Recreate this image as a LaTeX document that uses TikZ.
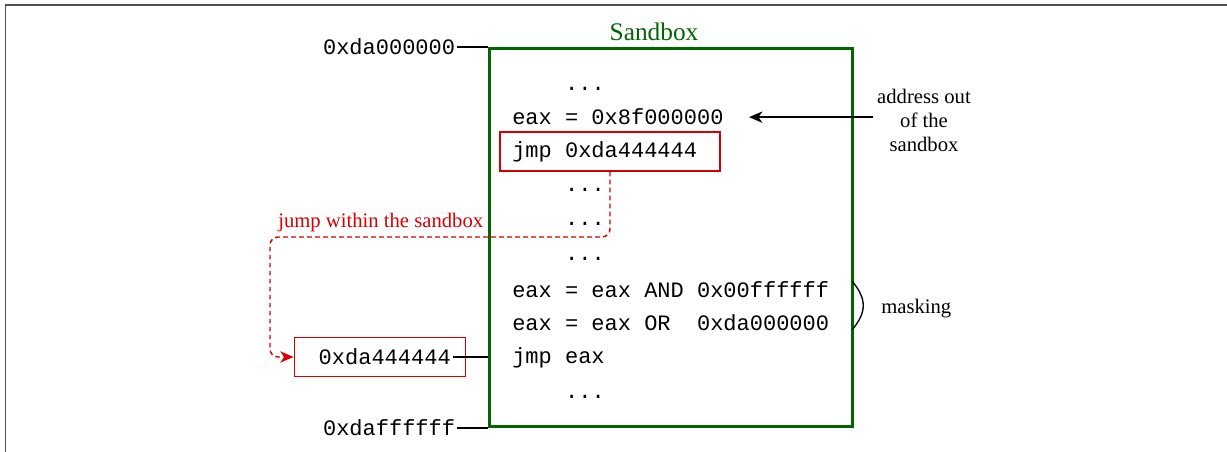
\documentclass[tikz,border=0pt]{standalone}
\usepackage{fontspec}
\setmainfont{Liberation Serif}
\setmonofont{Liberation Mono}
\usetikzlibrary{arrows,arrows.meta,calc,positioning}
\definecolor{boxgreen}{RGB}{0,102,0}
\definecolor{jumpred}{RGB}{215,0,0}
\definecolor{framegray}{RGB}{80,80,80}
\tikzset{
sandbox/.style={draw=boxgreen,line width=2.3pt},
code/.style={font=\fontsize{16.5}{18}\ttfamily,inner sep=0pt,anchor=base west},
dots/.style={font=\fontsize{16.5}{18}\ttfamily,inner sep=0pt,anchor=base},
addr/.style={font=\fontsize{16.5}{18}\ttfamily,inner sep=1.5pt},
note/.style={font=\fontsize{15.5}{18}\selectfont,align=center},
target/.style={draw=jumpred,line width=1.1pt,minimum height=29.25pt},
bigtip/.style={-{Stealth[length=10pt,width=8.5pt,inset=3pt]}},
jump/.style={bigtip,draw=jumpred,dash pattern=on 3.5pt off 2.5pt,
line width=1.1pt,rounded corners=6pt},
leader/.style={line width=1.1pt},
}

\begin{document}
\begin{tikzpicture}[x=0.75pt,y=-0.75pt]
\useasboundingbox (0,0) rectangle (1227,452);
\draw[framegray,line width=1.1pt] (5.5,452) -- (5.5,5) -- (1227,5);

% the sandbox
\node[sandbox,minimum width=272.25pt,minimum height=283.5pt,anchor=north west]
  (sandbox) at (488,47) {};
\node[font=\fontsize{19}{22}\selectfont,text=boxgreen,anchor=base] (title) at (654,41) {Sandbox};

% code inside
\node[dots] (d1) at (585,91) {...};
\node[code] (eaxline) at (512,125) {eax = 0x8f000000};
\node[target,minimum width=165pt] (jmpbox) at (610,151.5) {};
\node[code] (jmpline) at (512,158) {jmp 0xda444444};
\node[dots] (d2) at (585,192) {...};
\node[dots] (d3) at (585,226) {...};
\node[dots] (d4) at (585,261) {...};
\node[code] (andline) at (512,297) {eax = eax AND 0x00ffffff};
\node[code] (orline) at (512,330) {eax = eax OR~~0xda000000};
\node[code] (jmpeax) at (512,363) {jmp eax};
\node[dots] (d5) at (585,398) {...};

% addresses
\node[addr,left=23pt of sandbox.north west] (lowaddr) {0xda000000};
\node[addr,left=23pt of sandbox.south west] (highaddr) {0xdaffffff};
\draw[leader] (lowaddr) -- (sandbox.north west);
\draw[leader] (highaddr) -- (sandbox.south west);

\node[target,minimum width=128.25pt,anchor=east] (tgtbox) at (466,357) {};
\node[addr,anchor=east] (tgtaddr) at (453,357) {0xda444444};
\draw[leader] (tgtaddr) -- (tgtaddr -| sandbox.west);

% jump within the sandbox
\coordinate (bend) at (270,237);
\draw[jump] (jmpbox.south) |- (bend) |- (tgtbox.west);
\node[note,text=jumpred,anchor=base west,inner sep=0pt] (jumpnote) at (278,228) {jump within the sandbox};

% address out of the sandbox
\node[note] (outnote) at (924,120) {address out\\of the\\sandbox};
\draw[bigtip,line width=1.1pt] (outnote.west |- eaxline) -- ([xshift=19pt]eaxline.east);

% masking
\coordinate (maskA) at (852,281);
\coordinate (maskB) at (852,330);
\draw[line width=1pt] (maskA) .. controls ($(maskA)+(15,18)$) and ($(maskB)+(15,-18)$) .. (maskB);
\node[note,anchor=base west,inner sep=0pt] (masknote) at (881,313) {masking};
\end{tikzpicture}
\end{document}
